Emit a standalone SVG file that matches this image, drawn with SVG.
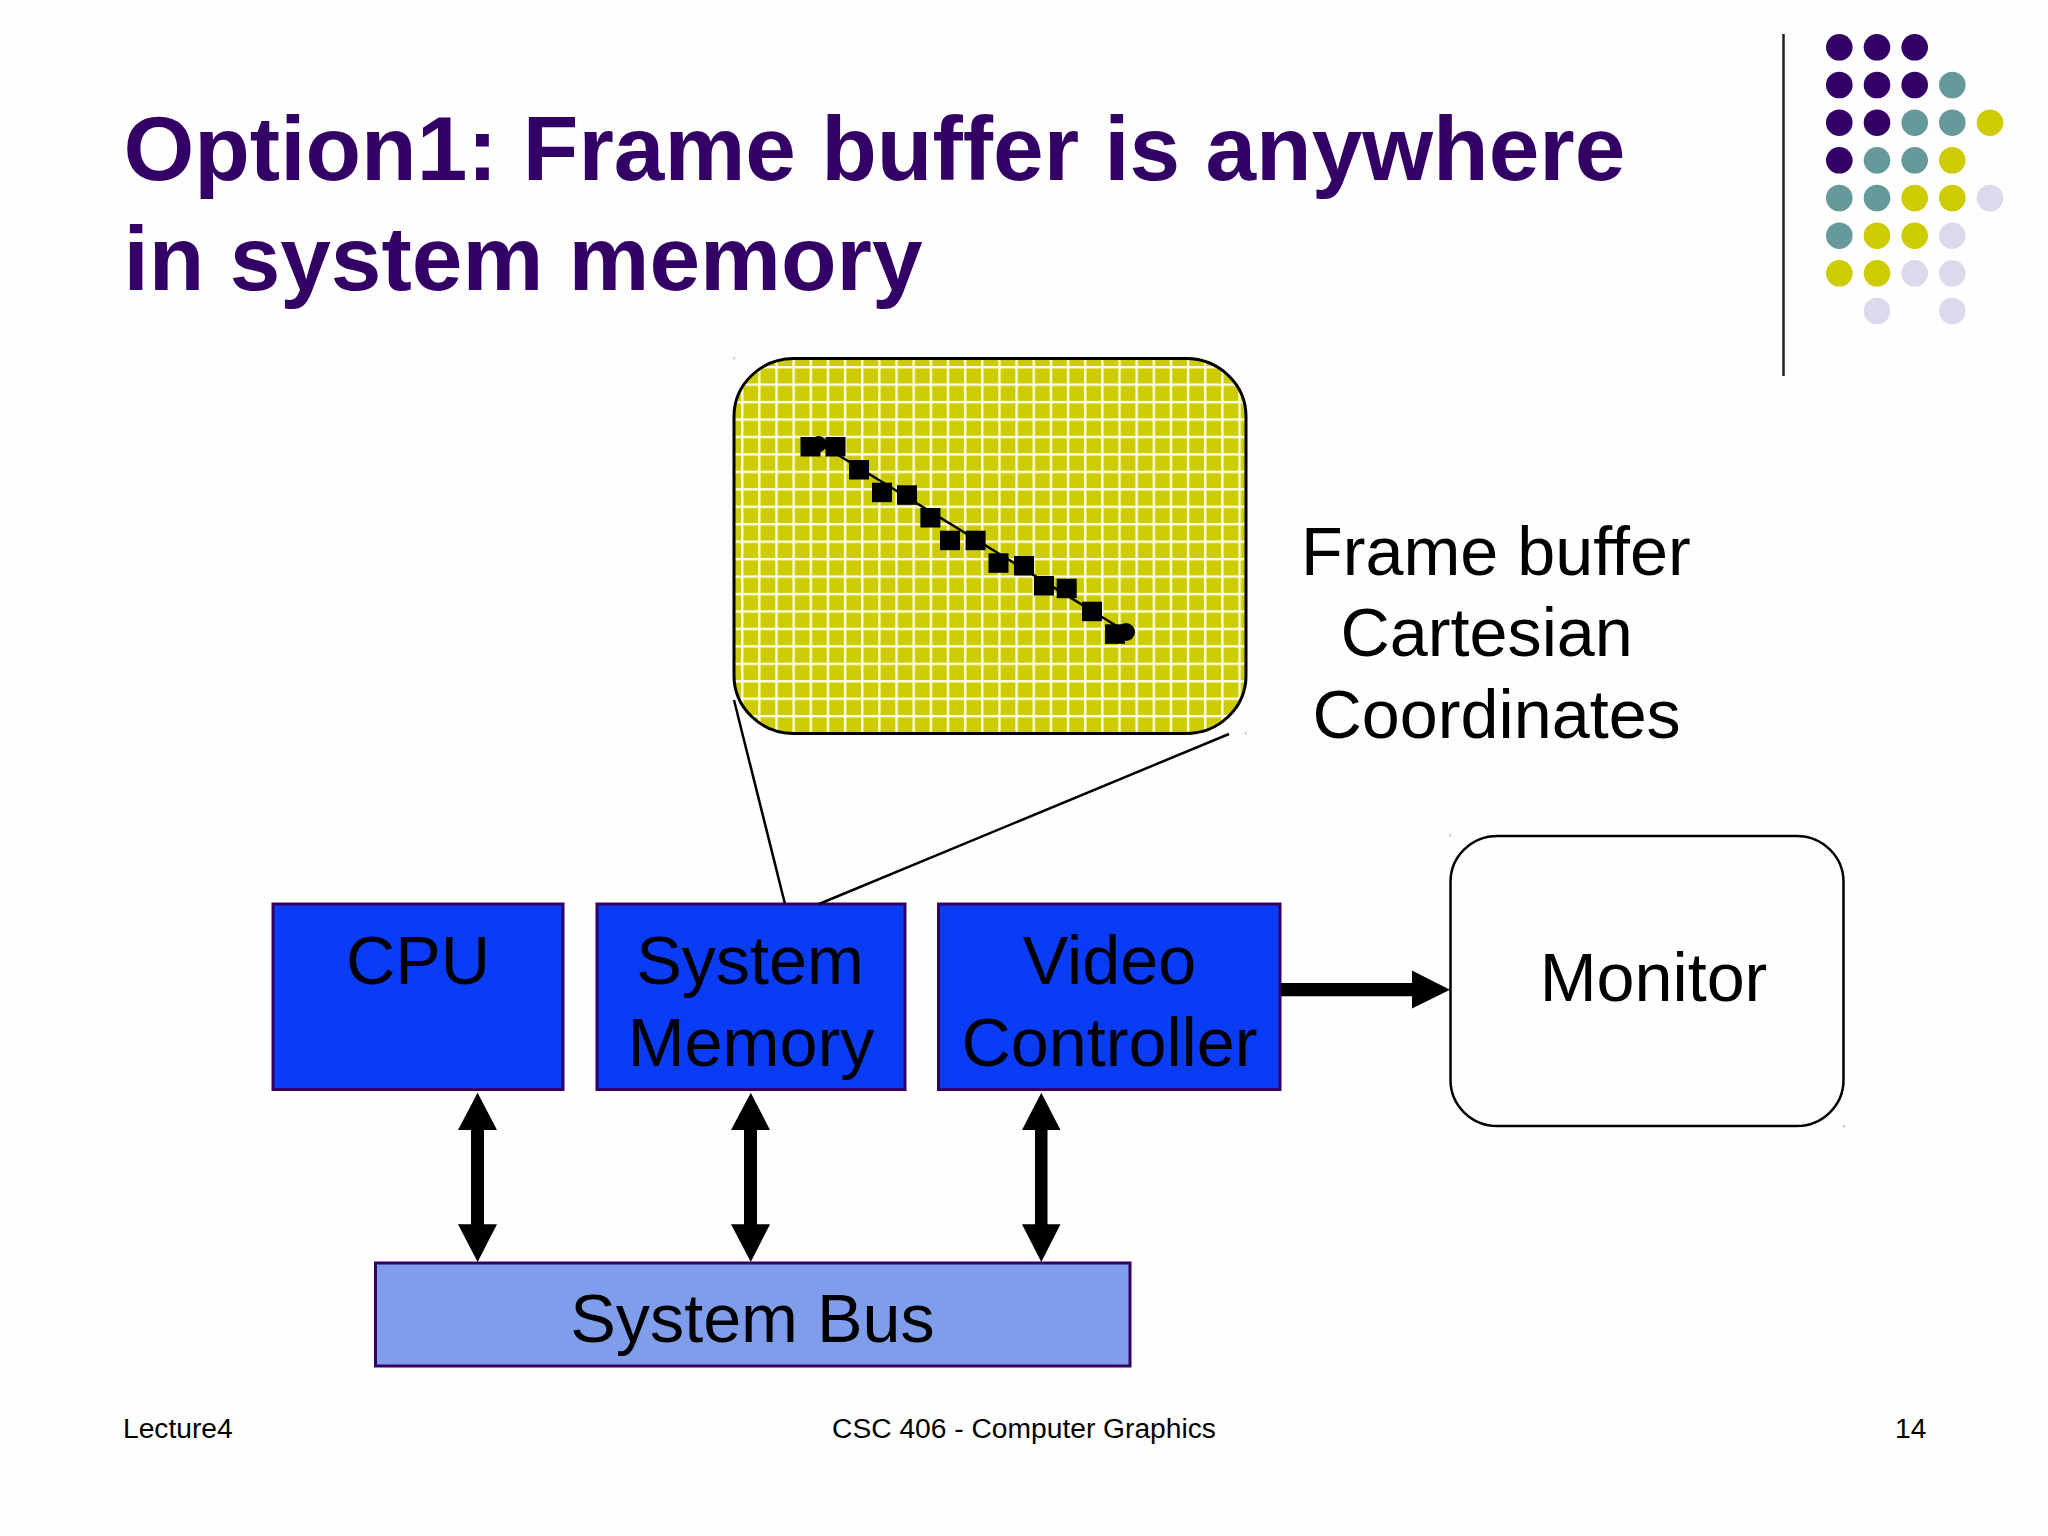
<svg xmlns="http://www.w3.org/2000/svg" width="2048" height="1536" viewBox="0 0 2048 1536">
<style>
text{font-family:"Liberation Sans",Arial,sans-serif;fill:#000}
.title{font-size:91px;font-weight:bold;fill:#330066}
.lab{font-size:68.3px}
.c{text-anchor:middle}
.foot{font-size:28.2px}
.box{fill:#0a3cf5;stroke:#330066;stroke-width:3}
.px{fill:#000}
.pu{fill:#330066}.te{fill:#669999}.ye{fill:#cccc00}.li{fill:#dadaec}
.thin{stroke:#000;stroke-width:2.5;fill:none}
.tick{fill:#999}
</style>
<defs>
<pattern id="grid" patternUnits="userSpaceOnUse" x="741" y="366" width="17.15" height="17.45">
<rect width="17.15" height="17.45" fill="#cccc00"/>
<rect width="2.4" height="17.45" fill="#fdfde4"/>
<rect width="17.15" height="2.4" fill="#fdfde4"/>
</pattern>
</defs>
<rect width="2048" height="1536" fill="#fefefe"/>
<g id="title">
<text class="title" x="123.500" y="180">Option1: Frame buffer is anywhere</text>
<text class="title" x="123.500" y="290">in system memory</text>
</g>
<g id="decor">
<line x1="1783.5" y1="34" x2="1783.5" y2="376" stroke="#222" stroke-width="2.5"/>
<g class="pu"><circle cx="1839.3" cy="47.3" r="13.3"/><circle cx="1877" cy="47.3" r="13.3"/><circle cx="1914.7" cy="47.3" r="13.3"/><circle cx="1839.3" cy="85" r="13.3"/><circle cx="1877" cy="85" r="13.3"/><circle cx="1914.7" cy="85" r="13.3"/><circle cx="1839.3" cy="122.7" r="13.3"/><circle cx="1877" cy="122.7" r="13.3"/><circle cx="1839.3" cy="160.3" r="13.3"/></g>
<g class="te"><circle cx="1952.3" cy="85" r="13.3"/><circle cx="1914.7" cy="122.7" r="13.3"/><circle cx="1952.3" cy="122.7" r="13.3"/><circle cx="1877" cy="160.3" r="13.3"/><circle cx="1914.7" cy="160.3" r="13.3"/><circle cx="1839.3" cy="198" r="13.3"/><circle cx="1877" cy="198" r="13.3"/><circle cx="1839.3" cy="235.7" r="13.3"/></g>
<g class="ye"><circle cx="1990" cy="122.7" r="13.3"/><circle cx="1952.3" cy="160.3" r="13.3"/><circle cx="1914.7" cy="198" r="13.3"/><circle cx="1952.3" cy="198" r="13.3"/><circle cx="1877" cy="235.7" r="13.3"/><circle cx="1914.7" cy="235.7" r="13.3"/><circle cx="1839.3" cy="273.3" r="13.3"/><circle cx="1877" cy="273.3" r="13.3"/></g>
<g class="li"><circle cx="1990" cy="198" r="13.3"/><circle cx="1952.3" cy="235.7" r="13.3"/><circle cx="1914.7" cy="273.3" r="13.3"/><circle cx="1952.3" cy="273.3" r="13.3"/><circle cx="1877" cy="311" r="13.3"/><circle cx="1952.3" cy="311" r="13.3"/></g>
</g>
<g id="frame-buffer">
<rect x="734" y="358.5" width="512" height="375" rx="60" ry="58" fill="url(#grid)" stroke="#000" stroke-width="3"/>
<rect class="tick" x="733.500" y="357" width="1" height="2.500"/>
<rect class="tick" x="1245.500" y="732" width="1" height="2.500"/>
<line x1="818.6" y1="443" x2="1126" y2="631.7" stroke="#000" stroke-width="2.5"/>
<circle cx="818.6" cy="444" r="8"/>
<circle cx="1126" cy="632" r="9"/>
<g class="px">
<rect x="800.5" y="437" width="20" height="19.5"/>
<rect x="825.5" y="437" width="20" height="19.5"/>
<rect x="849" y="460" width="20" height="19.5"/>
<rect x="872" y="482.7" width="20" height="19.5"/>
<rect x="897" y="485.3" width="20" height="19.5"/>
<rect x="920.4" y="508" width="20" height="19.5"/>
<rect x="940" y="530.7" width="20" height="19.5"/>
<rect x="965.6" y="530.7" width="20" height="19.5"/>
<rect x="988.5" y="553.3" width="20" height="19.5"/>
<rect x="1014" y="556" width="20" height="19.5"/>
<rect x="1034" y="576" width="20" height="19.5"/>
<rect x="1056.7" y="578.7" width="20" height="19.5"/>
<rect x="1082" y="601.7" width="20" height="19.5"/>
<rect x="1105" y="624.3" width="20" height="19.5"/>
</g>
</g>
<g id="frame-buffer-label">
<text class="lab" x="1301" y="575">Frame buffer</text>
<text class="lab" x="1340.500" y="655.500">Cartesian</text>
<text class="lab" x="1312.500" y="738">Coordinates</text>
</g>
<g id="cpu"><rect class="box" x="273" y="904" width="290" height="185.5"/><text class="lab c" x="418" y="983.500">CPU</text></g>
<g id="system-memory"><rect class="box" x="597" y="904" width="308" height="185.5"/><text class="lab c" x="750" y="983.500">System</text><text class="lab c" x="751" y="1065.500">Memory</text></g>
<g id="video-controller"><rect class="box" x="938.5" y="904" width="341.5" height="185.5"/><text class="lab c" x="1109.500" y="983.500">Video</text><text class="lab c" x="1109.500" y="1065.500">Controller</text></g>
<g id="monitor"><rect x="1450.5" y="836" width="393" height="290" rx="47" ry="46" fill="#fefefe" stroke="#000" stroke-width="2.5"/><rect class="tick" x="1449.500" y="834" width="1" height="2.500"/><rect class="tick" x="1843.500" y="1125" width="1" height="2.500"/><text class="lab c" x="1653.500" y="1000.500">Monitor</text></g>
<g id="system-bus"><rect class="box" style="fill:#7f9dea" x="375.5" y="1263" width="754.5" height="103"/><text class="lab c" x="752.500" y="1342">System Bus</text></g>
<g id="connectors">
<line class="thin" x1="734" y1="700" x2="785" y2="904"/>
<line class="thin" x1="1229" y1="734" x2="819" y2="904"/>
<path d="M477.6 1092.7L497 1130H484V1224.3H497L477.6 1262L458 1224.3H471V1130H458Z"/>
<path d="M750.8 1092.7L770 1130H757V1224.3H770L750.8 1262L731 1224.3H744V1130H731Z"/>
<path d="M1041.3 1092.7L1060.500 1130H1047.500V1224.3H1060.500L1041.3 1262L1022 1224.3H1035V1130H1022Z"/>
<path d="M1281 983H1412V970.500L1450 989.700L1412 1008.500V996.300H1281Z"/>
</g>
<g id="footer">
<text class="foot" x="123" y="1438">Lecture4</text>
<text class="foot c" x="1024" y="1438">CSC 406 - Computer Graphics</text>
<text class="foot" x="1895" y="1438">14</text>
</g>
</svg>
